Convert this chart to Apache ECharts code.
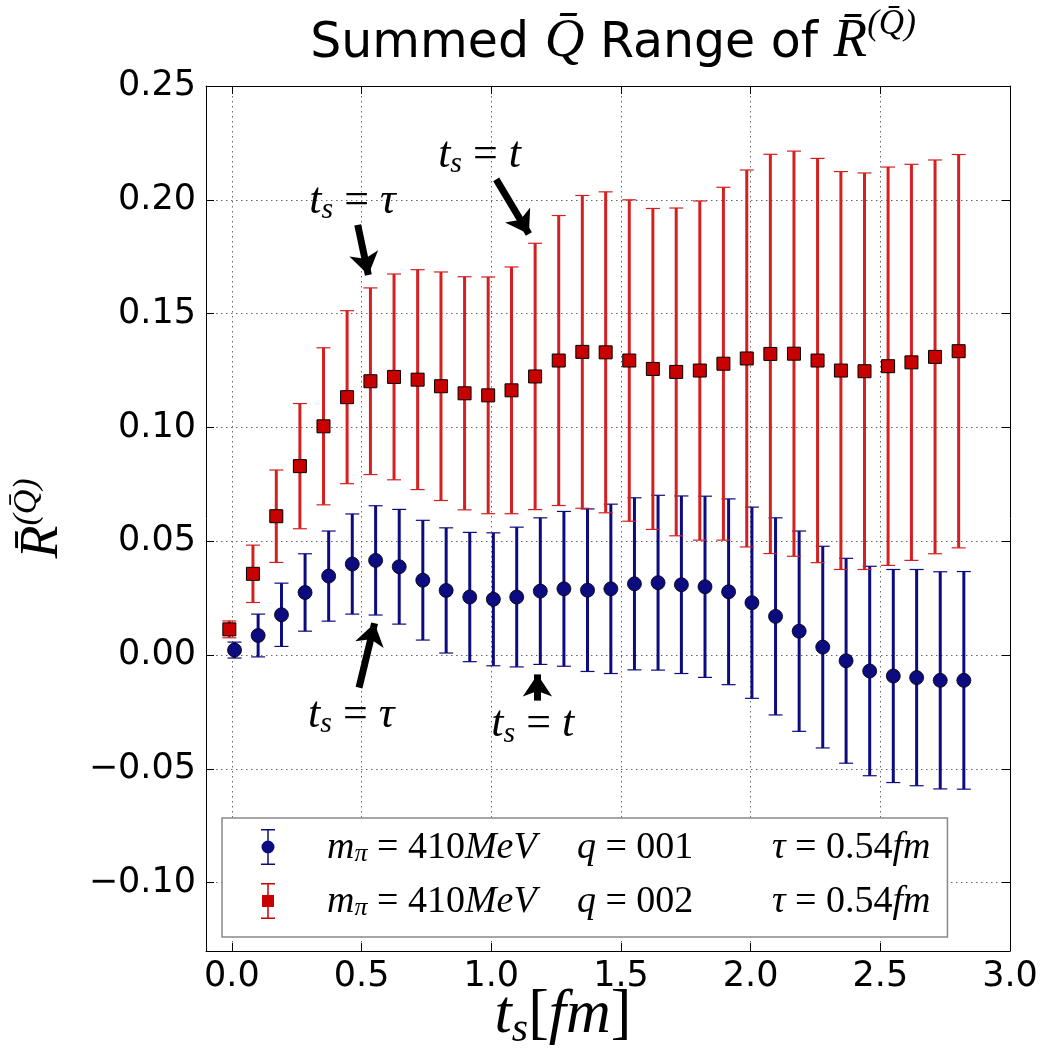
<!DOCTYPE html>
<html>
<head>
<meta charset="utf-8">
<script src="https://cdn.jsdelivr.net/npm/echarts@6/dist/echarts.min.js"></script>
<style>
html, body { margin: 0; padding: 0; background: #fff; }
#main { width: 1044px; height: 1051px; }
</style>
</head>
<body>
<div id="main"></div>
<script>
// t_s positions (fm)
var blueX = [0.010, 0.101, 0.191, 0.282, 0.373, 0.464, 0.554, 0.645, 0.736, 0.826, 0.917, 1.008, 1.098, 1.189, 1.280, 1.371,
	1.461, 1.552, 1.643, 1.733, 1.824, 1.915, 2.005, 2.096, 2.187, 2.278, 2.368, 2.459, 2.550, 2.640, 2.731, 2.822];
var redX = [-0.010, 0.081, 0.171, 0.262, 0.353, 0.444, 0.534, 0.625, 0.716, 0.806, 0.897, 0.988, 1.078, 1.169, 1.260, 1.351,
	1.441, 1.532, 1.623, 1.713, 1.804, 1.895, 1.985, 2.076, 2.167, 2.258, 2.348, 2.439, 2.530, 2.620, 2.711, 2.802];

// q = 001
var blueY = [0.0022, 0.0086, 0.0177, 0.0275, 0.0347, 0.0400, 0.0416, 0.0388, 0.0329, 0.0284, 0.0255, 0.0245, 0.0255, 0.0281, 0.0291, 0.0285,
	0.0291, 0.0313, 0.0318, 0.0309, 0.0300, 0.0278, 0.0230, 0.0170, 0.0105, 0.0035, -0.0025, -0.0070, -0.0092, -0.0099, -0.0111, -0.0111];
var blueErr = [0.0035, 0.0094, 0.0139, 0.0170, 0.0198, 0.0220, 0.0240, 0.0252, 0.0263, 0.0275, 0.0284, 0.0292, 0.0307, 0.0322, 0.0340, 0.0357,
	0.0372, 0.0378, 0.0384, 0.0390, 0.0398, 0.0408, 0.0420, 0.0433, 0.0440, 0.0443, 0.0450, 0.0460, 0.0468, 0.0475, 0.0477, 0.0478];

// q = 002
var redY = [0.0113, 0.0357, 0.0610, 0.0830, 0.1005, 0.1133, 0.1203, 0.1222, 0.1210, 0.1181, 0.1150, 0.1141, 0.1163, 0.1224, 0.1294, 0.1332,
	0.1330, 0.1294, 0.1257, 0.1244, 0.1250, 0.1280, 0.1303, 0.1323, 0.1324, 0.1294, 0.1250, 0.1247, 0.1269, 0.1286, 0.1310, 0.1335];
var redErr = [0.0037, 0.0126, 0.0203, 0.0275, 0.0345, 0.0380, 0.0410, 0.0452, 0.0483, 0.0502, 0.0512, 0.0520, 0.0542, 0.0585, 0.0637, 0.0687,
	0.0705, 0.0706, 0.0705, 0.0720, 0.0745, 0.0775, 0.0828, 0.0877, 0.0890, 0.0888, 0.0874, 0.0871, 0.0875, 0.0870, 0.0865, 0.0864];

// annotations: [x, y, kind] and arrows [x0, y0, x1, y1] in data units
var notes = [[0.465, 0.199, 'tau'], [0.955, 0.219, 't'], [0.46, -0.027, 'tau'], [1.16, -0.031, 't']];
var arrows = [[0.485, 0.189, 0.526, 0.167], [1.019, 0.209, 1.145, 0.185], [0.49, -0.0143, 0.550, 0.0140], [1.178, -0.0200, 1.178, -0.0085]];

var serif = 'Liberation Serif';
var sans = 'DejaVu Sans';
var navy = '#0c0c80';
var red = '#c80000';

function errRender(color) {
	return function (params, api) {
		var x = api.value(0);
		var top = api.coord([x, api.value(2)]);
		var bot = api.coord([x, api.value(1)]);
		var hw = 7;
		var cap = { stroke: color, lineWidth: 1.2 };
		return {
			type: 'group',
			children: [
				{ type: 'line', shape: { x1: top[0], y1: top[1], x2: bot[0], y2: bot[1] }, style: { stroke: color, lineWidth: 3 } },
				{ type: 'line', shape: { x1: top[0] - hw, y1: top[1], x2: top[0] + hw, y2: top[1] }, style: cap },
				{ type: 'line', shape: { x1: bot[0] - hw, y1: bot[1], x2: bot[0] + hw, y2: bot[1] }, style: cap }
			]
		};
	};
}

function yLabel(v) {
	if (Math.abs(v - Math.round(v / 0.05) * 0.05) > 1e-6) return '';
	return (v < -1e-9 ? '\u2212' : '') + Math.abs(v).toFixed(2);
}
function xLabel(v) {
	if (Math.abs(v - Math.round(v / 0.5) * 0.5) > 1e-6) return '';
	return v.toFixed(1);
}

var barPath = 'M0,0 H14 V1.5 H7.75 V34.5 H14 V36 H0 V34.5 H6.25 V1.5 H0 Z ';
var iconCircle = 'path://' + barPath + 'M7,11.5 A6.5,6.5 0 1,1 7,24.5 A6.5,6.5 0 1,1 7,11.5 Z';
var iconSquare = 'path://' + barPath + 'M1,12 H13 V24 H1 Z';

var chart = echarts.init(document.getElementById('main'));

var gridLine = { show: true, lineStyle: { color: '#666', width: 1, type: [1.5, 3.5] } };
var frame = { show: true, onZero: false, lineStyle: { color: '#000', width: 1 } };

var option = {
	animation: false,
	backgroundColor: '#fff',
	title: {
		text: '{a|Summed }{m|Q\u0304}{a| Range of }{m|R\u0304}{s|(Q\u0304)}',
		left: 608,
		top: 2,
		textAlign: 'center',
		textStyle: {
			fontWeight: 'normal',
			rich: {
				a: { fontFamily: sans, fontWeight: 'normal', fontSize: 49, color: '#000', verticalAlign: 'bottom', lineHeight: 62 },
				m: { fontFamily: serif, fontWeight: 'normal', fontStyle: 'italic', fontSize: 55, color: '#000', verticalAlign: 'bottom', lineHeight: 62 },
				s: { fontFamily: serif, fontWeight: 'normal', fontStyle: 'italic', fontSize: 35, color: '#000', verticalAlign: 'top', lineHeight: 62 }
			}
		}
	},
	grid: { left: 206, right: 34, top: 86, bottom: 100, outerBoundsMode: 'none', containLabel: false },
	xAxis: [{
		type: 'value', min: -0.1, max: 3.0, splitNumber: 6,
		axisLine: frame,
		axisTick: { inside: true, length: 8, lineStyle: { color: '#000' } },
		axisLabel: { formatter: xLabel, fontFamily: sans, fontSize: 35, color: '#000', margin: 8 },
		splitLine: gridLine,
		name: '{t|t}{s|s}{r|[}{t|fm}{r|]}',
		nameLocation: 'middle',
		nameGap: 34,
		nameMoveOverlap: false,
		nameTextStyle: {
			verticalAlign: 'top',
			padding: [0, 90, 0, 0],
			rich: {
				t: { fontFamily: serif, fontStyle: 'italic', fontSize: 62, color: '#000', verticalAlign: 'top', lineHeight: 66 },
				s: { fontFamily: serif, fontStyle: 'italic', fontSize: 42, color: '#000', verticalAlign: 'bottom', lineHeight: 66 },
				r: { fontFamily: serif, fontSize: 62, color: '#000', verticalAlign: 'top', lineHeight: 66 }
			}
		}
	}, {
		type: 'value', min: -0.1, max: 3.0, splitNumber: 6, position: 'top',
		axisLine: frame,
		axisTick: { inside: true, length: 8, lineStyle: { color: '#000' } },
		axisLabel: { show: false },
		splitLine: { show: false }
	}],
	yAxis: [{
		type: 'value', min: -0.13, max: 0.25, splitNumber: 8,
		axisLine: frame,
		axisTick: { inside: true, length: 8, lineStyle: { color: '#000' } },
		axisLabel: { formatter: yLabel, fontFamily: sans, fontSize: 35, color: '#000', margin: 10 },
		splitLine: gridLine,
		name: '{r|R\u0304}{s|(Q\u0304)}',
		nameLocation: 'middle',
		nameRotate: 90,
		nameGap: 136,
		nameMoveOverlap: false,
		nameTextStyle: {
			rich: {
				r: { fontFamily: serif, fontStyle: 'italic', fontSize: 54, color: '#000', verticalAlign: 'bottom', lineHeight: 60 },
				s: { fontFamily: serif, fontStyle: 'italic', fontSize: 34, color: '#000', verticalAlign: 'top', lineHeight: 60 }
			}
		}
	}, {
		type: 'value', min: -0.13, max: 0.25, splitNumber: 8, position: 'right',
		axisLine: frame,
		axisTick: { inside: true, length: 8, lineStyle: { color: '#000' } },
		axisLabel: { show: false },
		splitLine: { show: false }
	}],
	legend: {
		orient: 'vertical',
		left: 222,
		top: 818,
		itemWidth: 14,
		itemHeight: 36,
		itemGap: 16,
		padding: [11, 17, 16, 39],
		backgroundColor: '#fff',
		borderColor: '#888',
		borderWidth: 1.5,
		selectedMode: false,
		data: [
			{ name: 'q001', icon: iconCircle, itemStyle: { color: navy, borderWidth: 0 } },
			{ name: 'q002', icon: iconSquare, itemStyle: { color: red, borderWidth: 0 } }
		],
		formatter: function (name) {
			var q = name === 'q001' ? '001' : '002';
			return '{sp| }{i|m}{sub|\u03c0}{r| = 410}{iw|MeV}{i|q}{rw| = ' + q + '}{i|\u03c4}{r| = 0.54}{i|fm}';
		},
		textStyle: {
			rich: {
				sp: { width: 47 },
				i: { fontFamily: serif, fontStyle: 'italic', fontSize: 38, color: '#000', verticalAlign: 'bottom', lineHeight: 40 },
				iw: { fontFamily: serif, fontStyle: 'italic', fontSize: 38, color: '#000', width: 112, verticalAlign: 'bottom', lineHeight: 40 },
				sub: { fontFamily: serif, fontStyle: 'italic', fontSize: 26, color: '#000', verticalAlign: 'bottom', lineHeight: 34 },
				r: { fontFamily: serif, fontSize: 38, color: '#000', verticalAlign: 'bottom', lineHeight: 40 },
				rw: { fontFamily: serif, fontSize: 38, color: '#000', width: 176, verticalAlign: 'bottom', lineHeight: 40 }
			}
		}
	},
	series: [{
		name: 'q001err',
		type: 'custom',
		renderItem: errRender(navy),
		encode: { x: 0, y: [1, 2] },
		data: blueX.map(function (x, i) { return [x, blueY[i] - blueErr[i], blueY[i] + blueErr[i]]; }),
		z: 2
	}, {
		name: 'q001',
		type: 'scatter',
		symbol: 'circle',
		symbolSize: 14,
		itemStyle: { color: navy, borderColor: '#000', borderWidth: 0.8, opacity: 1 },
		data: blueX.map(function (x, i) { return [x, blueY[i]]; }),
		z: 3
	}, {
		name: 'q002err',
		type: 'custom',
		renderItem: errRender('#d42020'),
		encode: { x: 0, y: [1, 2] },
		data: redX.map(function (x, i) { return [x, redY[i] - redErr[i], redY[i] + redErr[i]]; }),
		z: 4
	}, {
		name: 'q002',
		type: 'scatter',
		symbol: 'rect',
		symbolSize: 13,
		itemStyle: { color: red, borderColor: '#000', borderWidth: 1, opacity: 1 },
		data: redX.map(function (x, i) { return [x, redY[i]]; }),
		z: 5
	}, {
		name: 'notes',
		type: 'scatter',
		symbolSize: 1,
		itemStyle: { opacity: 0 },
		silent: true,
		z: 6,
		data: notes.map(function (n) { return { value: [n[0], n[1]], name: n[2] }; }),
		label: {
			show: true,
			position: 'inside',
			color: '#000',
			opacity: 1,
			formatter: function (p) {
				return '{t|t}{s|s}{e| = }{t|' + (p.name === 'tau' ? '\u03c4' : 't') + '}';
			},
			rich: {
				t: { fontFamily: serif, fontStyle: 'italic', fontSize: 44, color: '#000', verticalAlign: 'top', lineHeight: 46 },
				s: { fontFamily: serif, fontStyle: 'italic', fontSize: 30, color: '#000', verticalAlign: 'bottom', lineHeight: 46 },
				e: { fontFamily: serif, fontSize: 44, color: '#000', verticalAlign: 'top', lineHeight: 46 }
			}
		},
		markLine: {
			silent: true,
			symbol: ['none', 'arrow'],
			symbolSize: 22,
			label: { show: false },
			lineStyle: { color: '#000', width: 7, type: 'solid', opacity: 1 },
			data: arrows.map(function (a) { return [{ coord: [a[0], a[1]] }, { coord: [a[2], a[3]] }]; })
		}
	}]
};

chart.setOption(option);
</script>
</body>
</html>
